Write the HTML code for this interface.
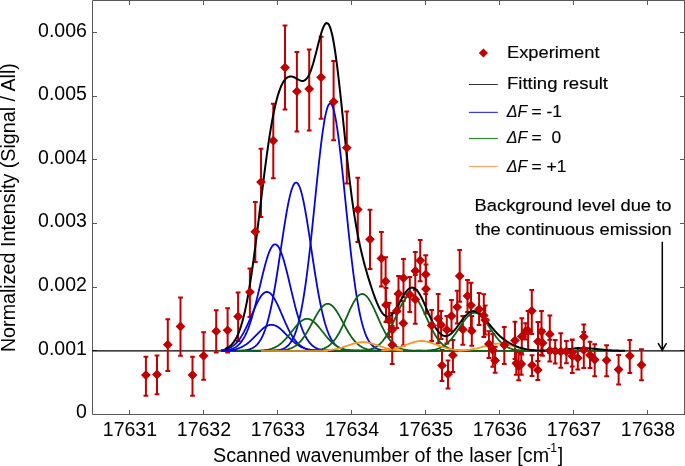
<!DOCTYPE html><html><head><meta charset="utf-8"><style>html,body{margin:0;padding:0;background:#fff}svg{display:block;will-change:transform;opacity:0.999}text{font-family:"Liberation Sans",sans-serif;fill:#000}.lg text{stroke:#000;stroke-width:0.15px}</style></head><body>
<svg width="685" height="466" viewBox="0 0 685 466">
<rect width="685" height="466" fill="#fff"/>
<g stroke="#595959" stroke-width="1" fill="none">
<path d="M92.5,0.5 H685.0 M92.5,414.5 H685.0 M92.5,0.5 V414.5 M684.5,0.5 V414.5"/>
<path d="M129.5,414.5 v-4.5 M129.5,0.5 v4.5 M203.5,414.5 v-4.5 M203.5,0.5 v4.5 M277.5,414.5 v-4.5 M277.5,0.5 v4.5 M351.5,414.5 v-4.5 M351.5,0.5 v4.5 M425.5,414.5 v-4.5 M425.5,0.5 v4.5 M499.5,414.5 v-4.5 M499.5,0.5 v4.5 M573.5,414.5 v-4.5 M573.5,0.5 v4.5 M647.5,414.5 v-4.5 M647.5,0.5 v4.5 M92.5,350.5 h4.5 M684.5,350.5 h-4.5 M92.5,287.5 h4.5 M684.5,287.5 h-4.5 M92.5,223.5 h4.5 M684.5,223.5 h-4.5 M92.5,159.5 h4.5 M684.5,159.5 h-4.5 M92.5,96.5 h4.5 M684.5,96.5 h-4.5 M92.5,32.5 h4.5 M684.5,32.5 h-4.5"/>
</g>
<path d="M92.5,350.80 H684.5" stroke="#000" stroke-width="1.3" fill="none"/>
<path d="M145.9,356.4 V396.1 M143.5,356.8 h4.8 M143.5,395.7 h4.8 M157.0,355.2 V394.6 M154.6,355.6 h4.8 M154.6,394.2 h4.8 M167.8,318.9 V371.4 M165.4,319.3 h4.8 M165.4,371.0 h4.8 M180.5,297.2 V356.1 M178.1,297.6 h4.8 M178.1,355.7 h4.8 M192.5,356.4 V396.1 M190.1,356.8 h4.8 M190.1,395.7 h4.8 M203.6,331.8 V380.2 M201.2,332.2 h4.8 M201.2,379.8 h4.8 M216.2,309.9 V352.8 M213.8,310.3 h4.8 M213.8,352.4 h4.8 M227.6,307.8 V352.8 M225.2,308.2 h4.8 M225.2,352.4 h4.8 M238.1,292.1 V341.3 M235.7,292.5 h4.8 M235.7,340.9 h4.8 M249.9,268.1 V317.3 M247.5,268.5 h4.8 M247.5,316.9 h4.8 M255.3,201.5 V262.3 M252.9,201.9 h4.8 M252.9,261.9 h4.8 M261.0,148.4 V217.5 M258.6,148.8 h4.8 M258.6,217.1 h4.8 M273.3,103.4 V178.6 M270.9,103.8 h4.8 M270.9,178.2 h4.8 M285.0,25.1 V109.8 M282.6,25.5 h4.8 M282.6,109.4 h4.8 M296.9,51.5 V132.0 M294.5,51.9 h4.8 M294.5,131.6 h4.8 M309.2,49.0 V131.0 M306.8,49.4 h4.8 M306.8,130.6 h4.8 M321.1,36.4 V119.1 M318.7,36.8 h4.8 M318.7,118.7 h4.8 M333.6,60.6 V140.6 M331.2,61.0 h4.8 M331.2,140.2 h4.8 M346.8,111.1 V184.0 M344.4,111.5 h4.8 M344.4,183.6 h4.8 M357.8,177.3 V242.3 M355.4,177.7 h4.8 M355.4,241.9 h4.8 M370.0,209.3 V269.4 M367.6,209.7 h4.8 M367.6,269.0 h4.8 M381.4,231.5 V286.9 M379.0,231.9 h4.8 M379.0,286.5 h4.8 M385.6,256.8 V305.8 M383.2,257.2 h4.8 M383.2,305.4 h4.8 M386.0,287.7 V322.3 M383.6,288.1 h4.8 M383.6,321.9 h4.8 M389.1,302.7 V337.3 M386.7,303.1 h4.8 M386.7,336.9 h4.8 M392.2,312.7 V346.3 M389.8,313.1 h4.8 M389.8,345.9 h4.8 M392.2,325.7 V364.4 M389.8,326.1 h4.8 M389.8,364.0 h4.8 M396.7,293.7 V328.3 M394.3,294.1 h4.8 M394.3,327.9 h4.8 M398.5,275.7 V311.8 M396.1,276.1 h4.8 M396.1,311.4 h4.8 M403.5,258.6 V297.6 M401.1,259.0 h4.8 M401.1,297.2 h4.8 M403.3,300.7 V346.0 M400.9,301.1 h4.8 M400.9,345.6 h4.8 M409.8,276.6 V312.3 M407.4,277.0 h4.8 M407.4,311.9 h4.8 M415.3,251.7 V290.3 M412.9,252.1 h4.8 M412.9,289.9 h4.8 M415.3,274.7 V324.1 M412.9,275.1 h4.8 M412.9,323.7 h4.8 M420.2,239.7 V281.6 M417.8,240.1 h4.8 M417.8,281.2 h4.8 M425.7,254.8 V294.3 M423.3,255.2 h4.8 M423.3,293.9 h4.8 M426.0,264.1 V313.8 M423.6,264.5 h4.8 M423.6,313.4 h4.8 M431.7,309.7 V341.3 M429.3,310.1 h4.8 M429.3,340.9 h4.8 M438.2,293.5 V343.7 M435.8,293.9 h4.8 M435.8,343.3 h4.8 M441.1,310.6 V339.4 M438.7,311.0 h4.8 M438.7,339.0 h4.8 M442.0,349.7 V381.3 M439.6,350.1 h4.8 M439.6,380.9 h4.8 M446.8,315.7 V343.9 M444.4,316.1 h4.8 M444.4,343.5 h4.8 M448.0,360.0 V388.9 M445.6,360.4 h4.8 M445.6,388.5 h4.8 M451.5,299.7 V331.3 M449.1,300.1 h4.8 M449.1,330.9 h4.8 M452.9,339.5 V372.4 M450.5,339.9 h4.8 M450.5,372.0 h4.8 M457.2,290.3 V323.8 M454.8,290.7 h4.8 M454.8,323.4 h4.8 M459.7,249.7 V302.1 M457.3,250.1 h4.8 M457.3,301.7 h4.8 M462.8,315.5 V345.2 M460.4,315.9 h4.8 M460.4,344.8 h4.8 M467.5,279.5 V312.3 M465.1,279.9 h4.8 M465.1,311.9 h4.8 M471.0,282.3 V328.3 M468.6,282.7 h4.8 M468.6,327.9 h4.8 M471.8,315.7 V346.1 M469.4,316.1 h4.8 M469.4,345.7 h4.8 M479.1,292.6 V325.5 M476.7,293.0 h4.8 M476.7,325.1 h4.8 M483.8,293.8 V337.5 M481.4,294.2 h4.8 M481.4,337.1 h4.8 M485.2,305.2 V334.8 M482.8,305.6 h4.8 M482.8,334.4 h4.8 M488.9,330.9 V358.3 M486.5,331.3 h4.8 M486.5,357.9 h4.8 M492.8,333.7 V367.2 M490.4,334.1 h4.8 M490.4,366.8 h4.8 M495.1,346.4 V373.2 M492.7,346.8 h4.8 M492.7,372.8 h4.8 M504.3,326.5 V364.3 M501.9,326.9 h4.8 M501.9,363.9 h4.8 M515.0,321.3 V359.3 M512.6,321.7 h4.8 M512.6,358.9 h4.8 M516.3,350.7 V375.1 M513.9,351.1 h4.8 M513.9,374.7 h4.8 M518.7,351.7 V380.7 M516.3,352.1 h4.8 M516.3,380.3 h4.8 M521.3,352.7 V375.1 M518.9,353.1 h4.8 M518.9,374.7 h4.8 M521.8,317.8 V355.0 M519.4,318.2 h4.8 M519.4,354.6 h4.8 M525.6,322.9 V339.8 M523.2,323.3 h4.8 M523.2,339.4 h4.8 M528.1,310.6 V350.8 M525.7,311.0 h4.8 M525.7,350.4 h4.8 M531.8,289.7 V334.3 M529.4,290.1 h4.8 M529.4,333.9 h4.8 M532.0,354.9 V376.3 M529.6,355.3 h4.8 M529.6,375.9 h4.8 M537.8,360.6 V380.5 M535.4,361.0 h4.8 M535.4,380.1 h4.8 M538.0,321.5 V361.3 M535.6,321.9 h4.8 M535.6,360.9 h4.8 M541.5,310.5 V355.3 M539.1,310.9 h4.8 M539.1,354.9 h4.8 M542.5,329.7 V356.1 M540.1,330.1 h4.8 M540.1,355.7 h4.8 M549.8,315.2 V353.3 M547.4,315.6 h4.8 M547.4,352.9 h4.8 M549.8,339.4 V361.8 M547.4,339.8 h4.8 M547.4,361.4 h4.8 M555.2,339.7 V363.9 M552.8,340.1 h4.8 M552.8,363.5 h4.8 M560.8,332.9 V368.1 M558.4,333.3 h4.8 M558.4,367.7 h4.8 M566.4,340.5 V363.6 M564.0,340.9 h4.8 M564.0,363.2 h4.8 M572.2,339.5 V366.8 M569.8,339.9 h4.8 M569.8,366.4 h4.8 M572.3,339.2 V373.3 M569.9,339.6 h4.8 M569.9,372.9 h4.8 M577.8,347.6 V369.8 M575.4,348.0 h4.8 M575.4,369.4 h4.8 M583.8,324.2 V349.3 M581.4,324.6 h4.8 M581.4,348.9 h4.8 M583.8,331.7 V368.3 M581.4,332.1 h4.8 M581.4,367.9 h4.8 M590.0,341.3 V368.3 M587.6,341.7 h4.8 M587.6,367.9 h4.8 M594.7,343.9 V376.7 M592.3,344.3 h4.8 M592.3,376.3 h4.8 M606.6,344.9 V376.7 M604.2,345.3 h4.8 M604.2,376.3 h4.8 M618.6,354.7 V385.0 M616.2,355.1 h4.8 M616.2,384.6 h4.8 M629.8,339.7 V373.5 M627.4,340.1 h4.8 M627.4,373.1 h4.8 M641.5,348.8 V380.7 M639.1,349.2 h4.8 M639.1,380.3 h4.8" stroke="#c00000" stroke-width="2.0" fill="none"/>
<g fill="none" stroke-width="1.8" stroke-linejoin="round">
<path stroke="#0606d6" d="M221.0,350.61 L222.0,350.56 L223.0,350.50 L224.0,350.43 L225.0,350.33 L226.0,350.22 L227.0,350.09 L228.0,349.92 L229.0,349.73 L230.0,349.49 L231.0,349.22 L232.0,348.89 L233.0,348.50 L234.0,348.05 L235.0,347.52 L236.0,346.91 L237.0,346.20 L238.0,345.38 L239.0,344.45 L240.0,343.40 L241.0,342.20 L242.0,340.85 L243.0,339.35 L244.0,337.67 L245.0,335.81 L246.0,333.76 L247.0,331.51 L248.0,329.07 L249.0,326.42 L250.0,323.56 L251.0,320.50 L252.0,317.24 L253.0,313.79 L254.0,310.16 L255.0,306.37 L256.0,302.44 L257.0,298.39 L258.0,294.24 L259.0,290.02 L260.0,285.78 L261.0,281.54 L262.0,277.34 L263.0,273.22 L264.0,269.23 L265.0,265.40 L266.0,261.77 L267.0,258.40 L268.0,255.31 L269.0,252.54 L270.0,250.13 L271.0,248.10 L272.0,246.49 L273.0,245.31 L274.0,244.58 L275.0,244.30 L276.0,244.49 L277.0,245.13 L278.0,246.22 L279.0,247.75 L280.0,249.69 L281.0,252.03 L282.0,254.73 L283.0,257.76 L284.0,261.08 L285.0,264.65 L286.0,268.45 L287.0,272.41 L288.0,276.51 L289.0,280.69 L290.0,284.93 L291.0,289.18 L292.0,293.40 L293.0,297.56 L294.0,301.64 L295.0,305.60 L296.0,309.42 L297.0,313.08 L298.0,316.56 L299.0,319.86 L300.0,322.96 L301.0,325.86 L302.0,328.55 L303.0,331.04 L304.0,333.33 L305.0,335.41 L306.0,337.31 L307.0,339.03 L308.0,340.57 L309.0,341.94 L310.0,343.17 L311.0,344.25 L312.0,345.21 L313.0,346.04 L314.0,346.77 L315.0,347.40 L316.0,347.95 L317.0,348.42 L318.0,348.82 L319.0,349.16 L320.0,349.44 L321.0,349.69 L322.0,349.89 L323.0,350.06 L324.0,350.20 L325.0,350.31 L326.0,350.41 L327.0,350.49 L328.0,350.55 L329.0,350.60 L330.0,350.64 L331.0,350.68 L332.0,350.70 L333.0,350.72 L334.0,350.74 L335.0,350.75 L336.0,350.77 L337.0,350.77 L338.0,350.78 L339.0,350.78 L340.0,350.79 L341.0,350.79 L342.0,350.79 L343.0,350.80 L344.0,350.80 L345.0,350.80 L346.0,350.80 L347.0,350.80 L348.0,350.80 L349.0,350.80 L350.0,350.80"/>
<path stroke="#0606d6" d="M221.0,350.18 L222.0,350.05 L223.0,349.89 L224.0,349.70 L225.0,349.48 L226.0,349.22 L227.0,348.92 L228.0,348.57 L229.0,348.17 L230.0,347.71 L231.0,347.18 L232.0,346.58 L233.0,345.90 L234.0,345.14 L235.0,344.29 L236.0,343.34 L237.0,342.29 L238.0,341.14 L239.0,339.87 L240.0,338.50 L241.0,337.01 L242.0,335.40 L243.0,333.69 L244.0,331.87 L245.0,329.94 L246.0,327.91 L247.0,325.80 L248.0,323.61 L249.0,321.36 L250.0,319.05 L251.0,316.72 L252.0,314.37 L253.0,312.03 L254.0,309.71 L255.0,307.45 L256.0,305.25 L257.0,303.16 L258.0,301.18 L259.0,299.34 L260.0,297.67 L261.0,296.17 L262.0,294.88 L263.0,293.81 L264.0,292.96 L265.0,292.36 L266.0,292.00 L267.0,291.90 L268.0,292.05 L269.0,292.46 L270.0,293.11 L271.0,294.00 L272.0,295.12 L273.0,296.46 L274.0,297.99 L275.0,299.70 L276.0,301.56 L277.0,303.57 L278.0,305.69 L279.0,307.89 L280.0,310.17 L281.0,312.49 L282.0,314.84 L283.0,317.19 L284.0,319.52 L285.0,321.81 L286.0,324.06 L287.0,326.23 L288.0,328.33 L289.0,330.33 L290.0,332.24 L291.0,334.04 L292.0,335.73 L293.0,337.31 L294.0,338.78 L295.0,340.13 L296.0,341.38 L297.0,342.51 L298.0,343.54 L299.0,344.47 L300.0,345.30 L301.0,346.04 L302.0,346.71 L303.0,347.29 L304.0,347.80 L305.0,348.25 L306.0,348.65 L307.0,348.99 L308.0,349.28 L309.0,349.53 L310.0,349.74 L311.0,349.92 L312.0,350.08 L313.0,350.21 L314.0,350.32 L315.0,350.41 L316.0,350.48 L317.0,350.54 L318.0,350.59 L319.0,350.63 L320.0,350.67 L321.0,350.70 L322.0,350.72 L323.0,350.74 L324.0,350.75 L325.0,350.76 L326.0,350.77 L327.0,350.78 L328.0,350.78 L329.0,350.79 L330.0,350.79 L331.0,350.79 L332.0,350.79 L333.0,350.80 L334.0,350.80 L335.0,350.80 L336.0,350.80 L337.0,350.80 L338.0,350.80 L339.0,350.80 L340.0,350.80 L341.0,350.80"/>
<path stroke="#0606d6" d="M221.0,350.70 L222.0,350.67 L223.0,350.64 L224.0,350.60 L225.0,350.56 L226.0,350.51 L227.0,350.44 L228.0,350.37 L229.0,350.28 L230.0,350.17 L231.0,350.05 L232.0,349.91 L233.0,349.75 L234.0,349.56 L235.0,349.35 L236.0,349.10 L237.0,348.82 L238.0,348.51 L239.0,348.16 L240.0,347.76 L241.0,347.33 L242.0,346.85 L243.0,346.32 L244.0,345.74 L245.0,345.11 L246.0,344.43 L247.0,343.71 L248.0,342.93 L249.0,342.11 L250.0,341.24 L251.0,340.33 L252.0,339.38 L253.0,338.40 L254.0,337.40 L255.0,336.38 L256.0,335.34 L257.0,334.30 L258.0,333.27 L259.0,332.26 L260.0,331.27 L261.0,330.32 L262.0,329.41 L263.0,328.56 L264.0,327.78 L265.0,327.07 L266.0,326.45 L267.0,325.91 L268.0,325.48 L269.0,325.15 L270.0,324.93 L271.0,324.81 L272.0,324.81 L273.0,324.93 L274.0,325.15 L275.0,325.48 L276.0,325.91 L277.0,326.45 L278.0,327.07 L279.0,327.78 L280.0,328.56 L281.0,329.41 L282.0,330.32 L283.0,331.27 L284.0,332.26 L285.0,333.27 L286.0,334.30 L287.0,335.34 L288.0,336.38 L289.0,337.40 L290.0,338.40 L291.0,339.38 L292.0,340.33 L293.0,341.24 L294.0,342.11 L295.0,342.93 L296.0,343.71 L297.0,344.43 L298.0,345.11 L299.0,345.74 L300.0,346.32 L301.0,346.85 L302.0,347.33 L303.0,347.76 L304.0,348.16 L305.0,348.51 L306.0,348.82 L307.0,349.10 L308.0,349.35 L309.0,349.56 L310.0,349.75 L311.0,349.91 L312.0,350.05 L313.0,350.17 L314.0,350.28 L315.0,350.37 L316.0,350.44 L317.0,350.51 L318.0,350.56 L319.0,350.60 L320.0,350.64 L321.0,350.67 L322.0,350.70 L323.0,350.72 L324.0,350.73 L325.0,350.75 L326.0,350.76 L327.0,350.77 L328.0,350.77 L329.0,350.78 L330.0,350.78 L331.0,350.79 L332.0,350.79 L333.0,350.79 L334.0,350.79 L335.0,350.80 L336.0,350.80 L337.0,350.80 L338.0,350.80 L339.0,350.80 L340.0,350.80 L341.0,350.80 L342.0,350.80 L343.0,350.80 L344.0,350.80 L345.0,350.80 L346.0,350.80"/>
<path stroke="#0606d6" d="M221.1,350.80 L222.1,350.80 L223.1,350.80 L224.1,350.80 L225.1,350.80 L226.1,350.80 L227.1,350.79 L228.1,350.79 L229.1,350.79 L230.1,350.79 L231.1,350.78 L232.1,350.78 L233.1,350.77 L234.1,350.76 L235.1,350.75 L236.1,350.73 L237.1,350.71 L238.1,350.68 L239.1,350.65 L240.1,350.61 L241.1,350.56 L242.1,350.49 L243.1,350.41 L244.1,350.32 L245.1,350.20 L246.1,350.05 L247.1,349.87 L248.1,349.65 L249.1,349.39 L250.1,349.07 L251.1,348.70 L252.1,348.25 L253.1,347.72 L254.1,347.10 L255.1,346.37 L256.1,345.52 L257.1,344.54 L258.1,343.41 L259.1,342.10 L260.1,340.61 L261.1,338.92 L262.1,337.01 L263.1,334.86 L264.1,332.45 L265.1,329.77 L266.1,326.80 L267.1,323.53 L268.1,319.95 L269.1,316.05 L270.1,311.83 L271.1,307.28 L272.1,302.41 L273.1,297.23 L274.1,291.75 L275.1,286.00 L276.1,279.98 L277.1,273.75 L278.1,267.32 L279.1,260.75 L280.1,254.09 L281.1,247.38 L282.1,240.68 L283.1,234.05 L284.1,227.56 L285.1,221.27 L286.1,215.25 L287.1,209.56 L288.1,204.27 L289.1,199.43 L290.1,195.11 L291.1,191.36 L292.1,188.23 L293.1,185.75 L294.1,183.95 L295.1,182.86 L296.1,182.50 L297.1,182.86 L298.1,183.95 L299.1,185.75 L300.1,188.23 L301.1,191.36 L302.1,195.11 L303.1,199.43 L304.1,204.27 L305.1,209.56 L306.1,215.25 L307.1,221.27 L308.1,227.56 L309.1,234.05 L310.1,240.68 L311.1,247.38 L312.1,254.09 L313.1,260.75 L314.1,267.32 L315.1,273.75 L316.1,279.98 L317.1,286.00 L318.1,291.75 L319.1,297.23 L320.1,302.41 L321.1,307.28 L322.1,311.83 L323.1,316.05 L324.1,319.95 L325.1,323.53 L326.1,326.80 L327.1,329.77 L328.1,332.45 L329.1,334.86 L330.1,337.01 L331.1,338.92 L332.1,340.61 L333.1,342.10 L334.1,343.41 L335.1,344.54 L336.1,345.52 L337.1,346.37 L338.1,347.10 L339.1,347.72 L340.1,348.25 L341.1,348.70 L342.1,349.07 L343.1,349.39 L344.1,349.65 L345.1,349.87 L346.1,350.05 L347.1,350.20 L348.1,350.32 L349.1,350.41 L350.1,350.49 L351.1,350.56 L352.1,350.61 L353.1,350.65 L354.1,350.68 L355.1,350.71 L356.1,350.73 L357.1,350.75 L358.1,350.76 L359.1,350.77 L360.1,350.78 L361.1,350.78 L362.1,350.79 L363.1,350.79 L364.1,350.79 L365.1,350.79 L366.1,350.80 L367.1,350.80 L368.1,350.80 L369.1,350.80 L370.1,350.80 L371.1,350.80"/>
<path stroke="#0606d6" d="M255.2,350.80 L256.2,350.80 L257.2,350.80 L258.2,350.80 L259.2,350.80 L260.2,350.79 L261.2,350.79 L262.2,350.79 L263.2,350.79 L264.2,350.78 L265.2,350.77 L266.2,350.77 L267.2,350.75 L268.2,350.74 L269.2,350.72 L270.2,350.70 L271.2,350.67 L272.2,350.63 L273.2,350.58 L274.2,350.52 L275.2,350.44 L276.2,350.35 L277.2,350.23 L278.2,350.09 L279.2,349.91 L280.2,349.69 L281.2,349.43 L282.2,349.11 L283.2,348.72 L284.2,348.26 L285.2,347.71 L286.2,347.05 L287.2,346.28 L288.2,345.36 L289.2,344.29 L290.2,343.04 L291.2,341.60 L292.2,339.93 L293.2,338.01 L294.2,335.83 L295.2,333.34 L296.2,330.53 L297.2,327.36 L298.2,323.82 L299.2,319.88 L300.2,315.52 L301.2,310.72 L302.2,305.45 L303.2,299.72 L304.2,293.51 L305.2,286.83 L306.2,279.67 L307.2,272.06 L308.2,264.00 L309.2,255.54 L310.2,246.70 L311.2,237.53 L312.2,228.09 L313.2,218.43 L314.2,208.63 L315.2,198.77 L316.2,188.92 L317.2,179.18 L318.2,169.64 L319.2,160.40 L320.2,151.54 L321.2,143.18 L322.2,135.40 L323.2,128.29 L324.2,121.94 L325.2,116.43 L326.2,111.82 L327.2,108.17 L328.2,105.53 L329.2,103.93 L330.2,103.40 L331.2,103.93 L332.2,105.53 L333.2,108.17 L334.2,111.82 L335.2,116.43 L336.2,121.94 L337.2,128.29 L338.2,135.40 L339.2,143.18 L340.2,151.54 L341.2,160.40 L342.2,169.64 L343.2,179.18 L344.2,188.92 L345.2,198.77 L346.2,208.63 L347.2,218.43 L348.2,228.09 L349.2,237.53 L350.2,246.70 L351.2,255.54 L352.2,264.00 L353.2,272.06 L354.2,279.67 L355.2,286.83 L356.2,293.51 L357.2,299.72 L358.2,305.45 L359.2,310.72 L360.2,315.52 L361.2,319.88 L362.2,323.82 L363.2,327.36 L364.2,330.53 L365.2,333.34 L366.2,335.83 L367.2,338.01 L368.2,339.93 L369.2,341.60 L370.2,343.04 L371.2,344.29 L372.2,345.36 L373.2,346.28 L374.2,347.05 L375.2,347.71 L376.2,348.26 L377.2,348.72 L378.2,349.11 L379.2,349.43 L380.2,349.69 L381.2,349.91 L382.2,350.09 L383.2,350.23 L384.2,350.35 L385.2,350.44 L386.2,350.52 L387.2,350.58 L388.2,350.63 L389.2,350.67 L390.2,350.70 L391.2,350.72 L392.2,350.74 L393.2,350.75 L394.2,350.77 L395.2,350.77 L396.2,350.78 L397.2,350.79 L398.2,350.79 L399.2,350.79 L400.2,350.79 L401.2,350.80 L402.2,350.80 L403.2,350.80 L404.2,350.80 L405.2,350.80"/>
<path d="M236,351.00 H621" stroke="#0e6218" stroke-width="1.6" fill="none"/>
<path stroke="#0e6218" d="M236.0,350.80 L237.0,350.80 L238.0,350.80 L239.0,350.80 L240.0,350.80 L241.0,350.80 L242.0,350.80 L243.0,350.80 L244.0,350.79 L245.0,350.79 L246.0,350.79 L247.0,350.79 L248.0,350.78 L249.0,350.78 L250.0,350.77 L251.0,350.76 L252.0,350.76 L253.0,350.74 L254.0,350.73 L255.0,350.71 L256.0,350.69 L257.0,350.66 L258.0,350.63 L259.0,350.59 L260.0,350.54 L261.0,350.48 L262.0,350.41 L263.0,350.32 L264.0,350.23 L265.0,350.11 L266.0,349.97 L267.0,349.81 L268.0,349.63 L269.0,349.42 L270.0,349.17 L271.0,348.89 L272.0,348.58 L273.0,348.22 L274.0,347.81 L275.0,347.36 L276.0,346.85 L277.0,346.30 L278.0,345.68 L279.0,345.01 L280.0,344.27 L281.0,343.47 L282.0,342.61 L283.0,341.70 L284.0,340.72 L285.0,339.68 L286.0,338.59 L287.0,337.45 L288.0,336.27 L289.0,335.05 L290.0,333.80 L291.0,332.54 L292.0,331.26 L293.0,329.99 L294.0,328.73 L295.0,327.49 L296.0,326.29 L297.0,325.14 L298.0,324.05 L299.0,323.04 L300.0,322.11 L301.0,321.28 L302.0,320.55 L303.0,319.94 L304.0,319.46 L305.0,319.10 L306.0,318.88 L307.0,318.80 L308.0,318.86 L309.0,319.05 L310.0,319.38 L311.0,319.84 L312.0,320.42 L313.0,321.12 L314.0,321.93 L315.0,322.84 L316.0,323.84 L317.0,324.92 L318.0,326.06 L319.0,327.25 L320.0,328.48 L321.0,329.74 L322.0,331.01 L323.0,332.28 L324.0,333.55 L325.0,334.80 L326.0,336.03 L327.0,337.22 L328.0,338.37 L329.0,339.47 L330.0,340.51 L331.0,341.50 L332.0,342.44 L333.0,343.31 L334.0,344.12 L335.0,344.86 L336.0,345.55 L337.0,346.18 L338.0,346.75 L339.0,347.26 L340.0,347.73 L341.0,348.14 L342.0,348.51 L343.0,348.83 L344.0,349.12 L345.0,349.37 L346.0,349.59 L347.0,349.78 L348.0,349.94 L349.0,350.08 L350.0,350.20 L351.0,350.31 L352.0,350.39 L353.0,350.47 L354.0,350.53 L355.0,350.58 L356.0,350.62 L357.0,350.65 L358.0,350.68 L359.0,350.71 L360.0,350.73 L361.0,350.74 L362.0,350.75 L363.0,350.76 L364.0,350.77 L365.0,350.78 L366.0,350.78 L367.0,350.79 L368.0,350.79 L369.0,350.79 L370.0,350.79 L371.0,350.80 L372.0,350.80 L373.0,350.80 L374.0,350.80 L375.0,350.80 L376.0,350.80 L377.0,350.80 L378.0,350.80 L379.0,350.80 L380.0,350.80 L381.0,350.80 L382.0,350.80"/>
<path stroke="#0e6218" d="M252.7,350.80 L253.7,350.80 L254.7,350.80 L255.7,350.80 L256.7,350.80 L257.7,350.80 L258.7,350.80 L259.7,350.80 L260.7,350.80 L261.7,350.80 L262.7,350.79 L263.7,350.79 L264.7,350.79 L265.7,350.79 L266.7,350.79 L267.7,350.78 L268.7,350.77 L269.7,350.77 L270.7,350.76 L271.7,350.75 L272.7,350.73 L273.7,350.71 L274.7,350.69 L275.7,350.66 L276.7,350.63 L277.7,350.59 L278.7,350.54 L279.7,350.48 L280.7,350.41 L281.7,350.32 L282.7,350.21 L283.7,350.09 L284.7,349.94 L285.7,349.77 L286.7,349.56 L287.7,349.33 L288.7,349.05 L289.7,348.73 L290.7,348.37 L291.7,347.96 L292.7,347.48 L293.7,346.95 L294.7,346.35 L295.7,345.68 L296.7,344.93 L297.7,344.10 L298.7,343.19 L299.7,342.19 L300.7,341.10 L301.7,339.92 L302.7,338.65 L303.7,337.29 L304.7,335.84 L305.7,334.31 L306.7,332.70 L307.7,331.02 L308.7,329.28 L309.7,327.49 L310.7,325.65 L311.7,323.79 L312.7,321.92 L313.7,320.05 L314.7,318.20 L315.7,316.38 L316.7,314.63 L317.7,312.95 L318.7,311.36 L319.7,309.88 L320.7,308.53 L321.7,307.32 L322.7,306.28 L323.7,305.40 L324.7,304.71 L325.7,304.21 L326.7,303.90 L327.7,303.80 L328.7,303.90 L329.7,304.21 L330.7,304.71 L331.7,305.40 L332.7,306.28 L333.7,307.32 L334.7,308.53 L335.7,309.88 L336.7,311.36 L337.7,312.95 L338.7,314.63 L339.7,316.38 L340.7,318.20 L341.7,320.05 L342.7,321.92 L343.7,323.79 L344.7,325.65 L345.7,327.49 L346.7,329.28 L347.7,331.02 L348.7,332.70 L349.7,334.31 L350.7,335.84 L351.7,337.29 L352.7,338.65 L353.7,339.92 L354.7,341.10 L355.7,342.19 L356.7,343.19 L357.7,344.10 L358.7,344.93 L359.7,345.68 L360.7,346.35 L361.7,346.95 L362.7,347.48 L363.7,347.96 L364.7,348.37 L365.7,348.73 L366.7,349.05 L367.7,349.33 L368.7,349.56 L369.7,349.77 L370.7,349.94 L371.7,350.09 L372.7,350.21 L373.7,350.32 L374.7,350.41 L375.7,350.48 L376.7,350.54 L377.7,350.59 L378.7,350.63 L379.7,350.66 L380.7,350.69 L381.7,350.71 L382.7,350.73 L383.7,350.75 L384.7,350.76 L385.7,350.77 L386.7,350.77 L387.7,350.78 L388.7,350.79 L389.7,350.79 L390.7,350.79 L391.7,350.79 L392.7,350.79 L393.7,350.80 L394.7,350.80 L395.7,350.80 L396.7,350.80 L397.7,350.80 L398.7,350.80 L399.7,350.80 L400.7,350.80 L401.7,350.80 L402.7,350.80"/>
<path stroke="#0e6218" d="M287.2,350.80 L288.2,350.80 L289.2,350.80 L290.2,350.80 L291.2,350.80 L292.2,350.80 L293.2,350.80 L294.2,350.80 L295.2,350.80 L296.2,350.80 L297.2,350.79 L298.2,350.79 L299.2,350.79 L300.2,350.79 L301.2,350.78 L302.2,350.78 L303.2,350.77 L304.2,350.76 L305.2,350.75 L306.2,350.74 L307.2,350.72 L308.2,350.70 L309.2,350.67 L310.2,350.64 L311.2,350.60 L312.2,350.55 L313.2,350.49 L314.2,350.41 L315.2,350.32 L316.2,350.22 L317.2,350.09 L318.2,349.94 L319.2,349.76 L320.2,349.55 L321.2,349.31 L322.2,349.02 L323.2,348.69 L324.2,348.30 L325.2,347.86 L326.2,347.36 L327.2,346.79 L328.2,346.15 L329.2,345.42 L330.2,344.61 L331.2,343.70 L332.2,342.70 L333.2,341.60 L334.2,340.39 L335.2,339.07 L336.2,337.65 L337.2,336.11 L338.2,334.47 L339.2,332.72 L340.2,330.87 L341.2,328.93 L342.2,326.90 L343.2,324.80 L344.2,322.63 L345.2,320.41 L346.2,318.16 L347.2,315.90 L348.2,313.64 L349.2,311.40 L350.2,309.21 L351.2,307.09 L352.2,305.05 L353.2,303.13 L354.2,301.35 L355.2,299.71 L356.2,298.26 L357.2,296.99 L358.2,295.93 L359.2,295.10 L360.2,294.49 L361.2,294.12 L362.2,294.00 L363.2,294.12 L364.2,294.49 L365.2,295.10 L366.2,295.93 L367.2,296.99 L368.2,298.26 L369.2,299.71 L370.2,301.35 L371.2,303.13 L372.2,305.05 L373.2,307.09 L374.2,309.21 L375.2,311.40 L376.2,313.64 L377.2,315.90 L378.2,318.16 L379.2,320.41 L380.2,322.63 L381.2,324.80 L382.2,326.90 L383.2,328.93 L384.2,330.87 L385.2,332.72 L386.2,334.47 L387.2,336.11 L388.2,337.65 L389.2,339.07 L390.2,340.39 L391.2,341.60 L392.2,342.70 L393.2,343.70 L394.2,344.61 L395.2,345.42 L396.2,346.15 L397.2,346.79 L398.2,347.36 L399.2,347.86 L400.2,348.30 L401.2,348.69 L402.2,349.02 L403.2,349.31 L404.2,349.55 L405.2,349.76 L406.2,349.94 L407.2,350.09 L408.2,350.22 L409.2,350.32 L410.2,350.41 L411.2,350.49 L412.2,350.55 L413.2,350.60 L414.2,350.64 L415.2,350.67 L416.2,350.70 L417.2,350.72 L418.2,350.74 L419.2,350.75 L420.2,350.76 L421.2,350.77 L422.2,350.78 L423.2,350.78 L424.2,350.79 L425.2,350.79 L426.2,350.79 L427.2,350.79 L428.2,350.80 L429.2,350.80 L430.2,350.80 L431.2,350.80 L432.2,350.80 L433.2,350.80 L434.2,350.80 L435.2,350.80 L436.2,350.80 L437.2,350.80"/>
<path stroke="#0e6218" d="M336.0,350.80 L337.0,350.80 L338.0,350.80 L339.0,350.80 L340.0,350.80 L341.0,350.80 L342.0,350.80 L343.0,350.80 L344.0,350.80 L345.0,350.80 L346.0,350.79 L347.0,350.79 L348.0,350.79 L349.0,350.79 L350.0,350.78 L351.0,350.78 L352.0,350.77 L353.0,350.76 L354.0,350.75 L355.0,350.74 L356.0,350.72 L357.0,350.70 L358.0,350.67 L359.0,350.64 L360.0,350.60 L361.0,350.55 L362.0,350.49 L363.0,350.42 L364.0,350.33 L365.0,350.23 L366.0,350.10 L367.0,349.95 L368.0,349.78 L369.0,349.57 L370.0,349.33 L371.0,349.05 L372.0,348.72 L373.0,348.35 L374.0,347.92 L375.0,347.42 L376.0,346.86 L377.0,346.23 L378.0,345.51 L379.0,344.72 L380.0,343.83 L381.0,342.84 L382.0,341.76 L383.0,340.57 L384.0,339.28 L385.0,337.88 L386.0,336.37 L387.0,334.76 L388.0,333.04 L389.0,331.22 L390.0,329.31 L391.0,327.32 L392.0,325.25 L393.0,323.12 L394.0,320.95 L395.0,318.74 L396.0,316.51 L397.0,314.29 L398.0,312.09 L399.0,309.94 L400.0,307.86 L401.0,305.86 L402.0,303.97 L403.0,302.22 L404.0,300.61 L405.0,299.18 L406.0,297.94 L407.0,296.90 L408.0,296.08 L409.0,295.48 L410.0,295.12 L411.0,295.00 L412.0,295.12 L413.0,295.48 L414.0,296.08 L415.0,296.90 L416.0,297.94 L417.0,299.18 L418.0,300.61 L419.0,302.22 L420.0,303.97 L421.0,305.86 L422.0,307.86 L423.0,309.94 L424.0,312.09 L425.0,314.29 L426.0,316.51 L427.0,318.74 L428.0,320.95 L429.0,323.12 L430.0,325.25 L431.0,327.32 L432.0,329.31 L433.0,331.22 L434.0,333.04 L435.0,334.76 L436.0,336.37 L437.0,337.88 L438.0,339.28 L439.0,340.57 L440.0,341.76 L441.0,342.84 L442.0,343.83 L443.0,344.72 L444.0,345.51 L445.0,346.23 L446.0,346.86 L447.0,347.42 L448.0,347.92 L449.0,348.35 L450.0,348.72 L451.0,349.05 L452.0,349.33 L453.0,349.57 L454.0,349.78 L455.0,349.95 L456.0,350.10 L457.0,350.23 L458.0,350.33 L459.0,350.42 L460.0,350.49 L461.0,350.55 L462.0,350.60 L463.0,350.64 L464.0,350.67 L465.0,350.70 L466.0,350.72 L467.0,350.74 L468.0,350.75 L469.0,350.76 L470.0,350.77 L471.0,350.78 L472.0,350.78 L473.0,350.79 L474.0,350.79 L475.0,350.79 L476.0,350.79 L477.0,350.80 L478.0,350.80 L479.0,350.80 L480.0,350.80 L481.0,350.80 L482.0,350.80 L483.0,350.80 L484.0,350.80 L485.0,350.80 L486.0,350.80"/>
<path stroke="#0e6218" d="M399.6,350.80 L400.6,350.80 L401.6,350.80 L402.6,350.80 L403.6,350.80 L404.6,350.80 L405.6,350.80 L406.6,350.80 L407.6,350.80 L408.6,350.80 L409.6,350.80 L410.6,350.79 L411.6,350.79 L412.6,350.79 L413.6,350.79 L414.6,350.78 L415.6,350.78 L416.6,350.77 L417.6,350.77 L418.6,350.76 L419.6,350.75 L420.6,350.73 L421.6,350.71 L422.6,350.69 L423.6,350.66 L424.6,350.63 L425.6,350.59 L426.6,350.54 L427.6,350.48 L428.6,350.41 L429.6,350.33 L430.6,350.22 L431.6,350.11 L432.6,349.96 L433.6,349.80 L434.6,349.61 L435.6,349.39 L436.6,349.13 L437.6,348.84 L438.6,348.50 L439.6,348.12 L440.6,347.69 L441.6,347.20 L442.6,346.66 L443.6,346.05 L444.6,345.38 L445.6,344.64 L446.6,343.83 L447.6,342.95 L448.6,342.00 L449.6,340.97 L450.6,339.88 L451.6,338.71 L452.6,337.47 L453.6,336.17 L454.6,334.81 L455.6,333.40 L456.6,331.95 L457.6,330.47 L458.6,328.96 L459.6,327.45 L460.6,325.94 L461.6,324.44 L462.6,322.97 L463.6,321.55 L464.6,320.19 L465.6,318.91 L466.6,317.71 L467.6,316.62 L468.6,315.65 L469.6,314.80 L470.6,314.09 L471.6,313.53 L472.6,313.13 L473.6,312.88 L474.6,312.80 L475.6,312.88 L476.6,313.13 L477.6,313.53 L478.6,314.09 L479.6,314.80 L480.6,315.65 L481.6,316.62 L482.6,317.71 L483.6,318.91 L484.6,320.19 L485.6,321.55 L486.6,322.97 L487.6,324.44 L488.6,325.94 L489.6,327.45 L490.6,328.96 L491.6,330.47 L492.6,331.95 L493.6,333.40 L494.6,334.81 L495.6,336.17 L496.6,337.47 L497.6,338.71 L498.6,339.88 L499.6,340.97 L500.6,342.00 L501.6,342.95 L502.6,343.83 L503.6,344.64 L504.6,345.38 L505.6,346.05 L506.6,346.66 L507.6,347.20 L508.6,347.69 L509.6,348.12 L510.6,348.50 L511.6,348.84 L512.6,349.13 L513.6,349.39 L514.6,349.61 L515.6,349.80 L516.6,349.96 L517.6,350.11 L518.6,350.22 L519.6,350.33 L520.6,350.41 L521.6,350.48 L522.6,350.54 L523.6,350.59 L524.6,350.63 L525.6,350.66 L526.6,350.69 L527.6,350.71 L528.6,350.73 L529.6,350.75 L530.6,350.76 L531.6,350.77 L532.6,350.77 L533.6,350.78 L534.6,350.78 L535.6,350.79 L536.6,350.79 L537.6,350.79 L538.6,350.79 L539.6,350.80 L540.6,350.80 L541.6,350.80 L542.6,350.80 L543.6,350.80 L544.6,350.80 L545.6,350.80 L546.6,350.80 L547.6,350.80 L548.6,350.80 L549.6,350.80"/>
<path d="M261,351.00 H328" stroke="#ff9326" stroke-width="1.5" fill="none"/>
<path stroke="#ff9326" d="M323.0,350.53 L324.0,350.48 L325.0,350.42 L326.0,350.36 L327.0,350.28 L328.0,350.19 L329.0,350.10 L330.0,349.99 L331.0,349.86 L332.0,349.73 L333.0,349.57 L334.0,349.41 L335.0,349.22 L336.0,349.02 L337.0,348.81 L338.0,348.58 L339.0,348.33 L340.0,348.06 L341.0,347.78 L342.0,347.49 L343.0,347.18 L344.0,346.86 L345.0,346.53 L346.0,346.20 L347.0,345.86 L348.0,345.52 L349.0,345.17 L350.0,344.83 L351.0,344.50 L352.0,344.18 L353.0,343.87 L354.0,343.58 L355.0,343.31 L356.0,343.07 L357.0,342.84 L358.0,342.65 L359.0,342.49 L360.0,342.37 L361.0,342.27 L362.0,342.22 L363.0,342.20 L364.0,342.22 L365.0,342.27 L366.0,342.37 L367.0,342.49 L368.0,342.65 L369.0,342.84 L370.0,343.07 L371.0,343.31 L372.0,343.58 L373.0,343.87 L374.0,344.18 L375.0,344.50 L376.0,344.83 L377.0,345.17 L378.0,345.52 L379.0,345.86 L380.0,346.20 L381.0,346.53 L382.0,346.86 L383.0,347.18 L384.0,347.49 L385.0,347.78 L386.0,348.06 L387.0,348.33 L388.0,348.58 L389.0,348.81 L390.0,349.02 L391.0,349.22 L392.0,349.41 L393.0,349.57 L394.0,349.73 L395.0,349.86 L396.0,349.99 L397.0,350.10 L398.0,350.19 L399.0,350.28 L400.0,350.36 L401.0,350.42 L402.0,350.48 L403.0,350.53"/>
<path stroke="#ff9326" d="M381.4,350.49 L382.4,350.44 L383.4,350.37 L384.4,350.29 L385.4,350.21 L386.4,350.11 L387.4,350.00 L388.4,349.87 L389.4,349.73 L390.4,349.58 L391.4,349.40 L392.4,349.21 L393.4,349.00 L394.4,348.78 L395.4,348.53 L396.4,348.27 L397.4,347.98 L398.4,347.68 L399.4,347.36 L400.4,347.03 L401.4,346.68 L402.4,346.31 L403.4,345.94 L404.4,345.56 L405.4,345.17 L406.4,344.78 L407.4,344.39 L408.4,344.00 L409.4,343.62 L410.4,343.26 L411.4,342.91 L412.4,342.58 L413.4,342.27 L414.4,341.99 L415.4,341.73 L416.4,341.52 L417.4,341.33 L418.4,341.19 L419.4,341.08 L420.4,341.02 L421.4,341.00 L422.4,341.02 L423.4,341.08 L424.4,341.19 L425.4,341.33 L426.4,341.52 L427.4,341.73 L428.4,341.99 L429.4,342.27 L430.4,342.58 L431.4,342.91 L432.4,343.26 L433.4,343.62 L434.4,344.00 L435.4,344.39 L436.4,344.78 L437.4,345.17 L438.4,345.56 L439.4,345.94 L440.4,346.31 L441.4,346.68 L442.4,347.03 L443.4,347.36 L444.4,347.68 L445.4,347.98 L446.4,348.27 L447.4,348.53 L448.4,348.78 L449.4,349.00 L450.4,349.21 L451.4,349.40 L452.4,349.58 L453.4,349.73 L454.4,349.87 L455.4,350.00 L456.4,350.11 L457.4,350.21 L458.4,350.29 L459.4,350.37 L460.4,350.44 L461.4,350.49"/>
<path stroke="#ff9326" d="M459.2,350.57 L460.2,350.53 L461.2,350.48 L462.2,350.43 L463.2,350.36 L464.2,350.29 L465.2,350.21 L466.2,350.12 L467.2,350.01 L468.2,349.90 L469.2,349.77 L470.2,349.63 L471.2,349.48 L472.2,349.31 L473.2,349.13 L474.2,348.94 L475.2,348.73 L476.2,348.51 L477.2,348.27 L478.2,348.03 L479.2,347.77 L480.2,347.50 L481.2,347.23 L482.2,346.95 L483.2,346.66 L484.2,346.38 L485.2,346.09 L486.2,345.81 L487.2,345.53 L488.2,345.26 L489.2,345.00 L490.2,344.76 L491.2,344.53 L492.2,344.32 L493.2,344.14 L494.2,343.98 L495.2,343.85 L496.2,343.74 L497.2,343.66 L498.2,343.62 L499.2,343.60 L500.2,343.62 L501.2,343.66 L502.2,343.74 L503.2,343.85 L504.2,343.98 L505.2,344.14 L506.2,344.32 L507.2,344.53 L508.2,344.76 L509.2,345.00 L510.2,345.26 L511.2,345.53 L512.2,345.81 L513.2,346.09 L514.2,346.38 L515.2,346.66 L516.2,346.95 L517.2,347.23 L518.2,347.50 L519.2,347.77 L520.2,348.03 L521.2,348.27 L522.2,348.51 L523.2,348.73 L524.2,348.94 L525.2,349.13 L526.2,349.31 L527.2,349.48 L528.2,349.63 L529.2,349.77 L530.2,349.90 L531.2,350.01 L532.2,350.12 L533.2,350.21 L534.2,350.29 L535.2,350.36 L536.2,350.43 L537.2,350.48 L538.2,350.53 L539.2,350.57"/>
</g>
<path d="M225.0,348.90 L226.0,348.50 L227.0,348.03 L228.0,347.47 L229.0,346.82 L230.0,346.07 L231.0,345.19 L232.0,344.17 L233.0,343.01 L234.0,341.67 L235.0,340.15 L236.0,338.43 L237.0,336.48 L238.0,334.30 L239.0,331.85 L240.0,329.13 L241.0,326.12 L242.0,322.80 L243.0,319.16 L244.0,315.18 L245.0,310.86 L246.0,306.18 L247.0,301.15 L248.0,295.77 L249.0,290.03 L250.0,283.95 L251.0,277.54 L252.0,270.81 L253.0,263.79 L254.0,256.49 L255.0,248.95 L256.0,241.20 L257.0,233.27 L258.0,225.21 L259.0,217.06 L260.0,208.85 L261.0,200.64 L262.0,192.47 L263.0,184.38 L264.0,176.41 L265.0,168.62 L266.0,161.03 L267.0,153.68 L268.0,146.61 L269.0,139.84 L270.0,133.40 L271.0,127.30 L272.0,121.57 L273.0,116.20 L274.0,111.21 L275.0,106.60 L276.0,102.37 L277.0,98.50 L278.0,95.00 L279.0,91.84 L280.0,89.03 L281.0,86.54 L282.0,84.37 L283.0,82.49 L284.0,80.90 L285.0,79.57 L286.0,78.50 L287.0,77.67 L288.0,77.06 L289.0,76.67 L290.0,76.46 L291.0,76.44 L292.0,76.58 L293.0,76.85 L294.0,77.24 L295.0,77.72 L296.0,78.26 L297.0,78.84 L298.0,79.41 L299.0,79.94 L300.0,80.40 L301.0,80.74 L302.0,80.93 L303.0,80.92 L304.0,80.67 L305.0,80.16 L306.0,79.34 L307.0,78.20 L308.0,76.71 L309.0,74.86 L310.0,72.66 L311.0,70.10 L312.0,67.20 L313.0,64.00 L314.0,60.53 L315.0,56.83 L316.0,52.98 L317.0,49.04 L318.0,45.08 L319.0,41.19 L320.0,37.45 L321.0,33.96 L322.0,30.80 L323.0,28.07 L324.0,25.85 L325.0,24.22 L326.0,23.26 L327.0,23.02 L328.0,23.55 L329.0,24.90 L330.0,27.09 L331.0,30.14 L332.0,34.03 L333.0,38.75 L334.0,44.26 L335.0,50.53 L336.0,57.50 L337.0,65.10 L338.0,73.24 L339.0,81.86 L340.0,90.86 L341.0,100.16 L342.0,109.65 L343.0,119.26 L344.0,128.90 L345.0,138.48 L346.0,147.93 L347.0,157.19 L348.0,166.19 L349.0,174.89 L350.0,183.25 L351.0,191.23 L352.0,198.83 L353.0,206.02 L354.0,212.81 L355.0,219.21 L356.0,225.22 L357.0,230.87 L358.0,236.18 L359.0,241.17 L360.0,245.88 L361.0,250.33 L362.0,254.56 L363.0,258.59 L364.0,262.45 L365.0,266.16 L366.0,269.74 L367.0,273.22 L368.0,276.60 L369.0,279.89 L370.0,283.10 L371.0,286.23 L372.0,289.27 L373.0,292.22 L374.0,295.06 L375.0,297.80 L376.0,300.41 L377.0,302.87 L378.0,305.18 L379.0,307.31 L380.0,309.26 L381.0,311.00 L382.0,312.52 L383.0,313.82 L384.0,314.87 L385.0,315.68 L386.0,316.24 L387.0,316.54 L388.0,316.59 L389.0,316.39 L390.0,315.95 L391.0,315.27 L392.0,314.38 L393.0,313.29 L394.0,312.02 L395.0,310.58 L396.0,309.01 L397.0,307.32 L398.0,305.55 L399.0,303.73 L400.0,301.88 L401.0,300.03 L402.0,298.22 L403.0,296.47 L404.0,294.81 L405.0,293.27 L406.0,291.87 L407.0,290.64 L408.0,289.60 L409.0,288.76 L410.0,288.14 L411.0,287.75 L412.0,287.60 L413.0,287.69 L414.0,288.03 L415.0,288.61 L416.0,289.43 L417.0,290.47 L418.0,291.73 L419.0,293.18 L420.0,294.82 L421.0,296.63 L422.0,298.58 L423.0,300.65 L424.0,302.81 L425.0,305.05 L426.0,307.35 L427.0,309.67 L428.0,311.99 L429.0,314.30 L430.0,316.56 L431.0,318.77 L432.0,320.90 L433.0,322.94 L434.0,324.86 L435.0,326.66 L436.0,328.33 L437.0,329.85 L438.0,331.22 L439.0,332.42 L440.0,333.46 L441.0,334.32 L442.0,335.01 L443.0,335.53 L444.0,335.87 L445.0,336.04 L446.0,336.05 L447.0,335.88 L448.0,335.56 L449.0,335.09 L450.0,334.47 L451.0,333.72 L452.0,332.84 L453.0,331.85 L454.0,330.75 L455.0,329.57 L456.0,328.32 L457.0,327.01 L458.0,325.66 L459.0,324.28 L460.0,322.90 L461.0,321.52 L462.0,320.17 L463.0,318.86 L464.0,317.61 L465.0,316.43 L466.0,315.34 L467.0,314.36 L468.0,313.49 L469.0,312.74 L470.0,312.13 L471.0,311.65 L472.0,311.32 L473.0,311.14 L474.0,311.10 L475.0,311.22 L476.0,311.47 L477.0,311.86 L478.0,312.39 L479.0,313.04 L480.0,313.80 L481.0,314.66 L482.0,315.61 L483.0,316.65 L484.0,317.75 L485.0,318.90 L486.0,320.10 L487.0,321.32 L488.0,322.57 L489.0,323.82 L490.0,325.07 L491.0,326.31 L492.0,327.53 L493.0,328.73 L494.0,329.90 L495.0,331.04 L496.0,332.14 L497.0,333.20 L498.0,334.22 L499.0,335.19 L500.0,336.13 L501.0,337.02 L502.0,337.87 L503.0,338.68 L504.0,339.45 L505.0,340.19 L506.0,340.89 L507.0,341.55 L508.0,342.19 L509.0,342.79 L510.0,343.36 L511.0,343.91 L512.0,344.43 L513.0,344.92 L514.0,345.39 L515.0,345.83 L516.0,346.25 L517.0,346.64 L518.0,347.01 L519.0,347.36 L520.0,347.68 L521.0,347.99 L522.0,348.27 L523.0,348.53 L524.0,348.77 L525.0,348.99 L526.0,349.20 L527.0,349.38 L528.0,349.55 L529.0,349.70 L530.0,349.84 L531.0,349.96 L532.0,350.07 L533.0,350.17 L534.0,350.25 L535.0,350.32 L536.0,350.39 L537.0,350.44 L538.0,350.49 L539.0,350.52 L540.0,350.55 L541.0,350.58 L542.0,350.59 L543.0,350.60 L544.0,350.61 L545.0,350.61 L546.0,350.60 L547.0,350.59 L548.0,350.57 L549.0,350.55 L550.0,350.53 L551.0,350.49 L552.0,350.46 L553.0,350.42 L554.0,350.37 L555.0,350.31 L556.0,350.26 L557.0,350.19 L558.0,350.12 L559.0,350.05 L560.0,349.97 L561.0,349.89 L562.0,349.80 L563.0,349.70 L564.0,349.61 L565.0,349.51 L566.0,349.41 L567.0,349.31 L568.0,349.20 L569.0,349.10 L570.0,349.00 L571.0,348.90 L572.0,348.80 L573.0,348.71 L574.0,348.62 L575.0,348.54 L576.0,348.46 L577.0,348.39 L578.0,348.34 L579.0,348.29 L580.0,348.25 L581.0,348.22 L582.0,348.21 L583.0,348.20 L584.0,348.21 L585.0,348.22 L586.0,348.25 L587.0,348.29 L588.0,348.34 L589.0,348.39 L590.0,348.46 L591.0,348.54 L592.0,348.62 L593.0,348.71 L594.0,348.80 L595.0,348.90 L596.0,349.00 L597.0,349.10 L598.0,349.20 L599.0,349.31 L600.0,349.41 L601.0,349.51 L602.0,349.61 L603.0,349.71 L604.0,349.80 L605.0,349.89 L606.0,349.97 L607.0,350.05 L608.0,350.13 L609.0,350.20 L610.0,350.26 L611.0,350.32 L612.0,350.38 L613.0,350.43 L614.0,350.48 L615.0,350.52 L616.0,350.55 L617.0,350.59 L618.0,350.62 L619.0,350.64 L620.0,350.67 L621.0,350.69 L622.0,350.70 L623.0,350.72 L624.0,350.73 L625.0,350.74" stroke="#000" stroke-width="2.0" fill="none" stroke-linejoin="round"/>
<path d="M145.9,370.2 l4.9,4.9 l-4.9,4.9 l-4.9,-4.9 z M157.0,369.6 l4.9,4.9 l-4.9,4.9 l-4.9,-4.9 z M167.8,339.8 l4.9,4.9 l-4.9,4.9 l-4.9,-4.9 z M180.5,321.5 l4.9,4.9 l-4.9,4.9 l-4.9,-4.9 z M192.5,370.2 l4.9,4.9 l-4.9,4.9 l-4.9,-4.9 z M203.6,350.9 l4.9,4.9 l-4.9,4.9 l-4.9,-4.9 z M216.2,326.3 l4.9,4.9 l-4.9,4.9 l-4.9,-4.9 z M227.6,325.4 l4.9,4.9 l-4.9,4.9 l-4.9,-4.9 z M238.1,311.6 l4.9,4.9 l-4.9,4.9 l-4.9,-4.9 z M249.9,287.2 l4.9,4.9 l-4.9,4.9 l-4.9,-4.9 z M255.3,226.8 l4.9,4.9 l-4.9,4.9 l-4.9,-4.9 z M261.0,177.2 l4.9,4.9 l-4.9,4.9 l-4.9,-4.9 z M273.3,135.8 l4.9,4.9 l-4.9,4.9 l-4.9,-4.9 z M285.0,62.7 l4.9,4.9 l-4.9,4.9 l-4.9,-4.9 z M296.9,86.5 l4.9,4.9 l-4.9,4.9 l-4.9,-4.9 z M309.2,84.0 l4.9,4.9 l-4.9,4.9 l-4.9,-4.9 z M321.1,72.4 l4.9,4.9 l-4.9,4.9 l-4.9,-4.9 z M333.6,96.8 l4.9,4.9 l-4.9,4.9 l-4.9,-4.9 z M346.8,142.9 l4.9,4.9 l-4.9,4.9 l-4.9,-4.9 z M357.8,204.7 l4.9,4.9 l-4.9,4.9 l-4.9,-4.9 z M370.0,234.4 l4.9,4.9 l-4.9,4.9 l-4.9,-4.9 z M381.4,253.5 l4.9,4.9 l-4.9,4.9 l-4.9,-4.9 z M385.6,276.4 l4.9,4.9 l-4.9,4.9 l-4.9,-4.9 z M386.0,300.0 l4.9,4.9 l-4.9,4.9 l-4.9,-4.9 z M389.1,315.4 l4.9,4.9 l-4.9,4.9 l-4.9,-4.9 z M392.2,324.9 l4.9,4.9 l-4.9,4.9 l-4.9,-4.9 z M392.2,340.0 l4.9,4.9 l-4.9,4.9 l-4.9,-4.9 z M396.7,306.1 l4.9,4.9 l-4.9,4.9 l-4.9,-4.9 z M398.5,288.8 l4.9,4.9 l-4.9,4.9 l-4.9,-4.9 z M403.5,273.2 l4.9,4.9 l-4.9,4.9 l-4.9,-4.9 z M403.3,318.3 l4.9,4.9 l-4.9,4.9 l-4.9,-4.9 z M409.8,289.8 l4.9,4.9 l-4.9,4.9 l-4.9,-4.9 z M415.3,266.0 l4.9,4.9 l-4.9,4.9 l-4.9,-4.9 z M415.3,294.5 l4.9,4.9 l-4.9,4.9 l-4.9,-4.9 z M420.2,255.6 l4.9,4.9 l-4.9,4.9 l-4.9,-4.9 z M425.7,269.5 l4.9,4.9 l-4.9,4.9 l-4.9,-4.9 z M426.0,284.1 l4.9,4.9 l-4.9,4.9 l-4.9,-4.9 z M431.7,320.6 l4.9,4.9 l-4.9,4.9 l-4.9,-4.9 z M438.2,313.7 l4.9,4.9 l-4.9,4.9 l-4.9,-4.9 z M441.1,320.1 l4.9,4.9 l-4.9,4.9 l-4.9,-4.9 z M442.0,360.5 l4.9,4.9 l-4.9,4.9 l-4.9,-4.9 z M446.8,324.9 l4.9,4.9 l-4.9,4.9 l-4.9,-4.9 z M448.0,369.3 l4.9,4.9 l-4.9,4.9 l-4.9,-4.9 z M451.5,311.1 l4.9,4.9 l-4.9,4.9 l-4.9,-4.9 z M452.9,350.3 l4.9,4.9 l-4.9,4.9 l-4.9,-4.9 z M457.2,302.2 l4.9,4.9 l-4.9,4.9 l-4.9,-4.9 z M459.7,271.2 l4.9,4.9 l-4.9,4.9 l-4.9,-4.9 z M462.8,324.6 l4.9,4.9 l-4.9,4.9 l-4.9,-4.9 z M467.5,291.0 l4.9,4.9 l-4.9,4.9 l-4.9,-4.9 z M471.0,300.4 l4.9,4.9 l-4.9,4.9 l-4.9,-4.9 z M471.8,326.0 l4.9,4.9 l-4.9,4.9 l-4.9,-4.9 z M479.1,304.3 l4.9,4.9 l-4.9,4.9 l-4.9,-4.9 z M483.8,310.7 l4.9,4.9 l-4.9,4.9 l-4.9,-4.9 z M485.2,315.1 l4.9,4.9 l-4.9,4.9 l-4.9,-4.9 z M488.9,339.0 l4.9,4.9 l-4.9,4.9 l-4.9,-4.9 z M492.8,345.1 l4.9,4.9 l-4.9,4.9 l-4.9,-4.9 z M495.1,355.6 l4.9,4.9 l-4.9,4.9 l-4.9,-4.9 z M504.3,340.1 l4.9,4.9 l-4.9,4.9 l-4.9,-4.9 z M515.0,335.6 l4.9,4.9 l-4.9,4.9 l-4.9,-4.9 z M516.3,358.4 l4.9,4.9 l-4.9,4.9 l-4.9,-4.9 z M518.7,361.1 l4.9,4.9 l-4.9,4.9 l-4.9,-4.9 z M521.3,359.1 l4.9,4.9 l-4.9,4.9 l-4.9,-4.9 z M521.8,331.5 l4.9,4.9 l-4.9,4.9 l-4.9,-4.9 z M525.6,326.3 l4.9,4.9 l-4.9,4.9 l-4.9,-4.9 z M528.1,325.8 l4.9,4.9 l-4.9,4.9 l-4.9,-4.9 z M531.8,305.9 l4.9,4.9 l-4.9,4.9 l-4.9,-4.9 z M532.0,360.3 l4.9,4.9 l-4.9,4.9 l-4.9,-4.9 z M537.8,365.0 l4.9,4.9 l-4.9,4.9 l-4.9,-4.9 z M538.0,336.6 l4.9,4.9 l-4.9,4.9 l-4.9,-4.9 z M541.5,326.6 l4.9,4.9 l-4.9,4.9 l-4.9,-4.9 z M542.5,338.1 l4.9,4.9 l-4.9,4.9 l-4.9,-4.9 z M549.8,329.3 l4.9,4.9 l-4.9,4.9 l-4.9,-4.9 z M549.8,345.7 l4.9,4.9 l-4.9,4.9 l-4.9,-4.9 z M555.2,346.1 l4.9,4.9 l-4.9,4.9 l-4.9,-4.9 z M560.8,346.7 l4.9,4.9 l-4.9,4.9 l-4.9,-4.9 z M566.4,346.6 l4.9,4.9 l-4.9,4.9 l-4.9,-4.9 z M572.2,347.5 l4.9,4.9 l-4.9,4.9 l-4.9,-4.9 z M572.3,351.1 l4.9,4.9 l-4.9,4.9 l-4.9,-4.9 z M577.8,353.1 l4.9,4.9 l-4.9,4.9 l-4.9,-4.9 z M583.8,331.8 l4.9,4.9 l-4.9,4.9 l-4.9,-4.9 z M583.8,345.1 l4.9,4.9 l-4.9,4.9 l-4.9,-4.9 z M590.0,350.1 l4.9,4.9 l-4.9,4.9 l-4.9,-4.9 z M594.7,354.8 l4.9,4.9 l-4.9,4.9 l-4.9,-4.9 z M606.6,355.4 l4.9,4.9 l-4.9,4.9 l-4.9,-4.9 z M618.6,364.7 l4.9,4.9 l-4.9,4.9 l-4.9,-4.9 z M629.8,350.9 l4.9,4.9 l-4.9,4.9 l-4.9,-4.9 z M641.5,360.0 l4.9,4.9 l-4.9,4.9 l-4.9,-4.9 z" fill="#c00000"/>
<path d="M662.3,241.7 V349.8 M658.1,343.2 L662.3,350.2 L666.5,343.2" stroke="#000" stroke-width="1.5" fill="none"/>
<text x="129.9" y="435.7" font-size="19.5" text-anchor="middle">17631</text>
<text x="203.9" y="435.7" font-size="19.5" text-anchor="middle">17632</text>
<text x="277.9" y="435.7" font-size="19.5" text-anchor="middle">17633</text>
<text x="351.9" y="435.7" font-size="19.5" text-anchor="middle">17634</text>
<text x="425.9" y="435.7" font-size="19.5" text-anchor="middle">17635</text>
<text x="499.9" y="435.7" font-size="19.5" text-anchor="middle">17636</text>
<text x="573.9" y="435.7" font-size="19.5" text-anchor="middle">17637</text>
<text x="647.9" y="435.7" font-size="19.5" text-anchor="middle">17638</text>
<text x="86.9" y="418.1" font-size="19.5" text-anchor="end">0</text>
<text x="86.9" y="354.5" font-size="19.5" text-anchor="end">0.001</text>
<text x="86.9" y="290.9" font-size="19.5" text-anchor="end">0.002</text>
<text x="86.9" y="227.3" font-size="19.5" text-anchor="end">0.003</text>
<text x="86.9" y="163.7" font-size="19.5" text-anchor="end">0.004</text>
<text x="86.9" y="100.1" font-size="19.5" text-anchor="end">0.005</text>
<text x="86.9" y="36.5" font-size="19.5" text-anchor="end">0.006</text>
<text x="213.1" y="461.5" font-size="19.5" textLength="336" lengthAdjust="spacingAndGlyphs">Scanned wavenumber of the laser [cm</text>
<text x="546.8" y="452.1" font-size="12.2">-</text>
<text x="550.3" y="452.1" font-size="12.2">1</text>
<text x="557.8" y="461.5" font-size="19.5">]</text>
<text transform="translate(14.9,352.1) rotate(-90)" font-size="19.5" textLength="289" lengthAdjust="spacingAndGlyphs">Normalized Intensity (Signal / All)</text>
<g class="lg">
<path d="M483.4,48.4 l4.6,4.6 l-4.6,4.6 l-4.6,-4.6 z" fill="#c00000"/>
<text x="507" y="58.4" font-size="17.4" textLength="92.5" lengthAdjust="spacingAndGlyphs">Experiment</text>
<path d="M468.9,84.5 H497.8" stroke="#333" stroke-width="1"/>
<text x="507" y="88.7" font-size="17.4" textLength="101" lengthAdjust="spacingAndGlyphs">Fitting result</text>
<path d="M468.9,112.4 H497.8" stroke="#3a3af0" stroke-width="1.2"/>
<text x="506.8" y="116.9" font-size="17.4" font-style="italic" textLength="20.5" lengthAdjust="spacingAndGlyphs">ΔF</text>
<text x="531.6" y="116.9" font-size="17.4" xml:space="preserve" style="white-space:pre">= -1</text>
<path d="M468.9,138.5 H497.8" stroke="#2a8a2a" stroke-width="1.2"/>
<text x="506.8" y="143.3" font-size="17.4" font-style="italic" textLength="20.5" lengthAdjust="spacingAndGlyphs">ΔF</text>
<text x="531.6" y="143.3" font-size="17.4" xml:space="preserve" style="white-space:pre">=  0</text>
<path d="M468.9,166.5 H497.8" stroke="#f5a66a" stroke-width="1.2"/>
<text x="506.8" y="171.7" font-size="17.4" font-style="italic" textLength="20.5" lengthAdjust="spacingAndGlyphs">ΔF</text>
<text x="531.6" y="171.7" font-size="17.4" xml:space="preserve" style="white-space:pre">= +1</text>
<text x="474.5" y="210.9" font-size="17.4" textLength="197" lengthAdjust="spacingAndGlyphs">Background level due to</text>
<text x="475.3" y="234.9" font-size="17.4" textLength="196.5" lengthAdjust="spacingAndGlyphs">the continuous emission</text>
</g>
</svg></body></html>
